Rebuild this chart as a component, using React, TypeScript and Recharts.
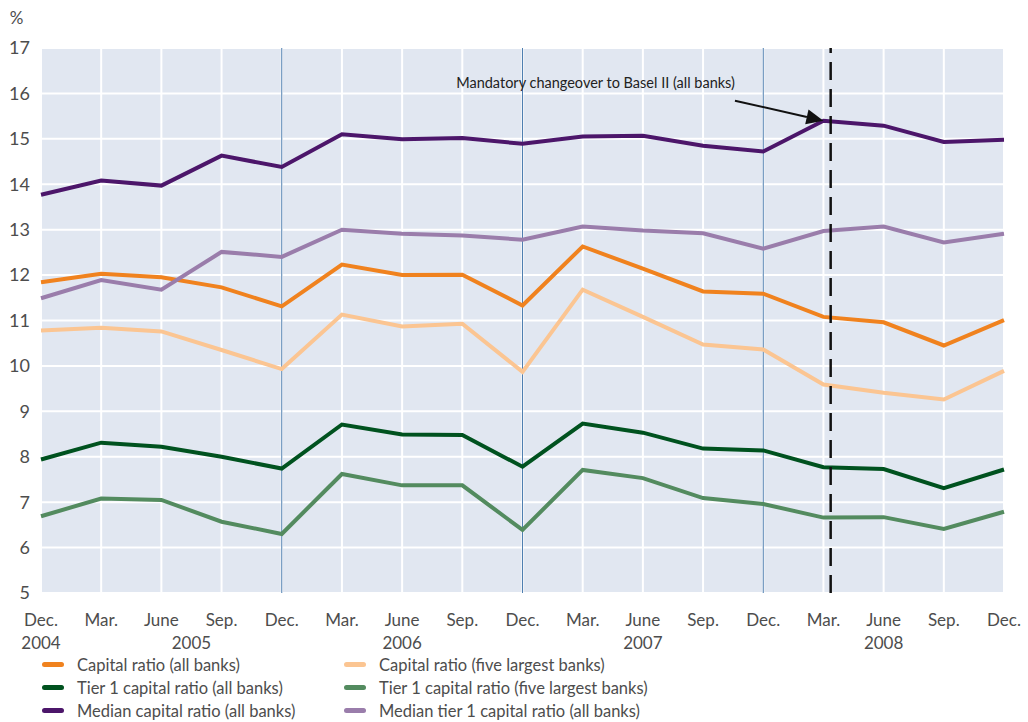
import React from 'react';
import {
  LineChart, Line, XAxis, YAxis, CartesianGrid, ReferenceLine, Legend,
} from 'recharts';

const quarters = ['Dec.', 'Mar.', 'June', 'Sep.', 'Dec.', 'Mar.', 'June', 'Sep.', 'Dec.', 'Mar.', 'June', 'Sep.', 'Dec.', 'Mar.', 'June', 'Sep.', 'Dec.'];
const yearTicks = [0, 2.5, 6, 10, 14];
const yearNames = ['2004', '2005', '2006', '2007', '2008'];
const yTicks = [5, 6, 7, 8, 9, 10, 11, 12, 13, 14, 15, 16, 17];

const capitalAll = [11.84, 12.03, 11.95, 11.73, 11.31, 12.23, 12.0, 12.01, 11.33, 12.63, 12.14, 11.64, 11.59, 11.08, 10.96, 10.45, 11.01];
const capitalFive = [10.78, 10.84, 10.76, 10.35, 9.93, 11.13, 10.87, 10.93, 9.87, 11.68, 11.08, 10.47, 10.36, 9.59, 9.41, 9.26, 9.89];
const tier1All = [7.94, 8.31, 8.22, 8.0, 7.74, 8.71, 8.49, 8.48, 7.78, 8.73, 8.53, 8.18, 8.14, 7.77, 7.73, 7.31, 7.72];
const tier1Five = [6.69, 7.08, 7.05, 6.57, 6.3, 7.62, 7.37, 7.37, 6.39, 7.71, 7.53, 7.09, 6.96, 6.66, 6.67, 6.41, 6.79];
const medianCapital = [13.77, 14.08, 13.97, 14.63, 14.38, 15.1, 14.99, 15.02, 14.89, 15.05, 15.07, 14.85, 14.72, 15.4, 15.29, 14.93, 14.98];
const medianTier1 = [11.49, 11.89, 11.68, 12.51, 12.4, 13.0, 12.91, 12.87, 12.78, 13.07, 12.98, 12.92, 12.58, 12.97, 13.07, 12.72, 12.91];

const series = [
  { key: 'capitalAll', name: 'Capital ratio (all banks)', color: '#f0821e', values: capitalAll },
  { key: 'capitalFive', name: 'Capital ratio (five largest banks)', color: '#fbc592', values: capitalFive },
  { key: 'tier1All', name: 'Tier 1 capital ratio (all banks)', color: '#00521f', values: tier1All },
  { key: 'tier1Five', name: 'Tier 1 capital ratio (five largest banks)', color: '#538b5f', values: tier1Five },
  { key: 'medianCapital', name: 'Median capital ratio (all banks)', color: '#4c166a', values: medianCapital },
  { key: 'medianTier1', name: 'Median tier 1 capital ratio (all banks)', color: '#9a7dab', values: medianTier1 },
];

const data = quarters.map((q, i) => {
  const row: Record<string, number | string> = { i, q };
  series.forEach(s => { row[s.key] = s.values[i]; });
  return row;
});

const FONT = 'Lato, "Open Sans", sans-serif';
const TEXT = '#4d4d4d';

const LegendBox = () => (
  <div style={{ display: 'grid', gridTemplateColumns: '302px 320px', fontFamily: FONT, fontSize: 16.5, color: TEXT, paddingLeft: 42 }}>
    {series.map(s => (
      <div key={s.key} style={{ display: 'flex', alignItems: 'center', height: 23 }}>
        <span style={{ display: 'inline-block', width: 22, height: 5, borderRadius: 3, background: s.color, marginRight: 13 }} />
        <span>{s.name}</span>
      </div>
    ))}
  </div>
);

const Arrow = (props: any) => {
  const { x1, y1, x2, y2 } = props;
  const ang = Math.atan2(y2 - y1, x2 - x1);
  const len = 17;
  const w = 7.5;
  const bx = x2 - len * Math.cos(ang);
  const by = y2 - len * Math.sin(ang);
  const px = -Math.sin(ang) * w;
  const py = Math.cos(ang) * w;
  return (
    <g>
      <line x1={x1} y1={y1} x2={bx} y2={by} stroke="#111" strokeWidth={2} />
      <polygon points={`${x2},${y2} ${bx + px},${by + py} ${bx - px},${by - py}`} fill="#111" />
      <text x={x1} y={y1 - 13} textAnchor="end" fontFamily={FONT} fontSize={14.5} fill="#222">
        Mandatory changeover to Basel II (all banks)
      </text>
    </g>
  );
};

export default function App() {
  return (
    <div style={{ position: 'absolute', left: 0, top: 0, width: 1028, height: 722, overflow: 'hidden', background: '#fff' }}>
      <LineChart width={1028} height={722} data={data} margin={{ top: 48, right: 24, bottom: 0, left: 0 }}>
        <CartesianGrid stroke="#ffffff" strokeWidth={2} fill="#e1e7f1" />
        <XAxis
          dataKey="i"
          type="number"
          domain={[0, 16]}
          ticks={quarters.map((_, i) => i)}
          tickFormatter={(v: number) => quarters[v]}
          interval={0}
          axisLine={false}
          tickLine={false}
          tickSize={0}
          tickMargin={21}
          height={30}
          tick={{ fill: TEXT, fontSize: 17, fontFamily: FONT }}
        />
        <XAxis
          xAxisId="year"
          dataKey="i"
          type="number"
          domain={[0, 16]}
          ticks={yearTicks}
          tickFormatter={(v: number) => yearNames[yearTicks.indexOf(v)]}
          interval={0}
          axisLine={false}
          tickLine={false}
          tickSize={0}
          tickMargin={14}
          height={30}
          tick={{ fill: TEXT, fontSize: 17, fontFamily: FONT }}
        />
        <YAxis
          domain={[5, 17]}
          ticks={yTicks}
          interval={0}
          width={41}
          axisLine={false}
          tickLine={false}
          tickSize={0}
          tickMargin={11}
          tick={{ fill: TEXT, fontSize: 18, fontFamily: FONT }}
          label={{ value: '%', position: 'top', offset: 24, dx: -4, fill: TEXT, fontSize: 17, fontFamily: FONT }}
        />
        <ReferenceLine x={4} stroke="#4f7fb0" strokeWidth={1} />
        <ReferenceLine x={8} stroke="#4f7fb0" strokeWidth={1} />
        <ReferenceLine x={12} stroke="#4f7fb0" strokeWidth={1} />
        {series.map(s => (
          <Line
            key={s.key}
            dataKey={s.key}
            name={s.name}
            stroke={s.color}
            strokeWidth={4}
            dot={false}
            activeDot={false}
            type="linear"
            isAnimationActive={false}
          />
        ))}
        <ReferenceLine x={13.12} stroke="#111" strokeWidth={2.5} strokeDasharray="18 9" />
        <ReferenceLine
          segment={[{ x: 11.53, y: 15.84 }, { x: 13.0, y: 15.4 }]}
          shape={Arrow}
          ifOverflow="visible"
        />
        <Legend verticalAlign="bottom" align="left" content={<LegendBox />} />
      </LineChart>
    </div>
  );
}
